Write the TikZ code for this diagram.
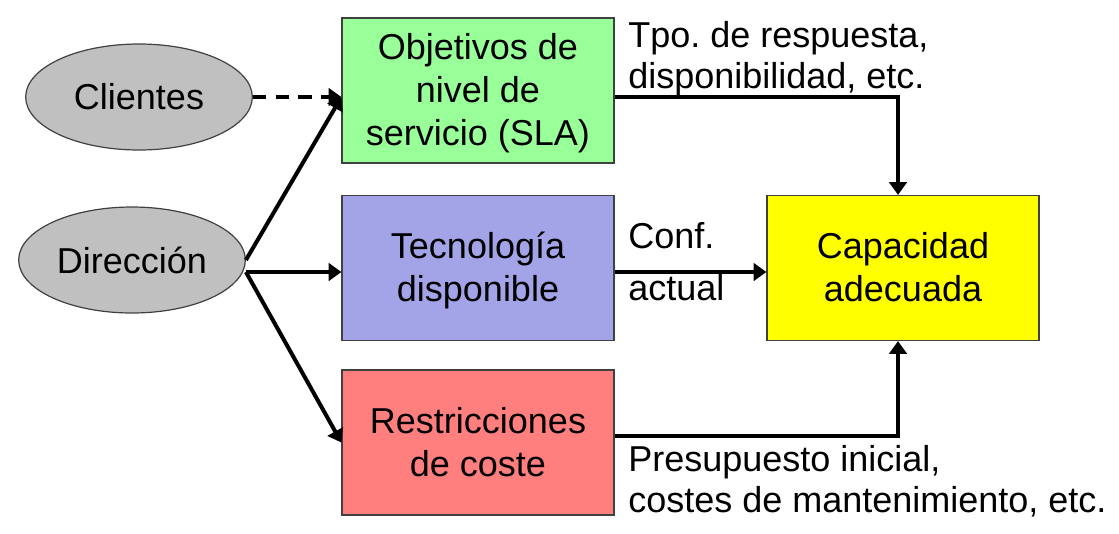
\documentclass[tikz,border=0pt]{standalone}
\usepackage{fontspec}
\setmainfont{Liberation Sans}
\usetikzlibrary{arrows.meta,shapes.geometric,calc}
\definecolor{boxgreen}{HTML}{99FF99}
\definecolor{boxblue}{HTML}{A3A3E8}
\definecolor{boxred}{HTML}{FF7F7F}
\definecolor{boxyellow}{HTML}{FFFF00}
\definecolor{ellgray}{HTML}{C0C0C0}
\definecolor{edgegray}{HTML}{404040}
\newcommand\mybxstrut{\rule[-5.7pt]{0pt}{30.1pt}}
\frenchspacing
\begin{document}
\begin{tikzpicture}[x=0.75pt,y=-0.75pt,
  every node/.style={font=\fontsize{27}{32.25}\selectfont\frenchspacing},
  box/.style={draw=edgegray, line width=0.9pt, minimum width=204pt, minimum height=108.75pt, inner sep=0pt, align=center},
  oval/.style={ellipse, draw=edgegray, line width=0.9pt, fill=ellgray, minimum width=170pt, minimum height=79.5pt, inner sep=0pt},
  arr/.style={line width=3pt, -{Triangle[length=9.5pt,width=13pt]}},
  darr/.style={arr, dash pattern=on 10pt off 7pt},
  lbl/.style={anchor=base west, align=left, inner sep=0pt, font=\fontsize{27}{30.75}\selectfont\frenchspacing}]
\useasboundingbox (0,0) rectangle (1119,533);
\node[oval] (cli) at (139,97) {Clientes};
\node[oval] (dir) at (132,260) {Dirección};
\node[box, fill=boxgreen] (sla) at (478,90.5) {\mybxstrut Objetivos de\\\mybxstrut nivel de\\\mybxstrut servicio (SLA)};
\node[box, fill=boxblue] (tec) at (478,268) {\mybxstrut Tecnología\\\mybxstrut disponible};
\node[box, fill=boxred] (res) at (478,442.5) {\mybxstrut Restricciones\\\mybxstrut de coste};
\node[box, fill=boxyellow] (cap) at (903,268) {\mybxstrut Capacidad\\\mybxstrut adecuada};
\coordinate (slain) at (sla.west |- cli.center);
\draw[darr] (cli) -- (slain);
\draw[arr] (dir.east) -- (slain);
\draw[arr] ([yshift=-9pt]dir.east) -- ([yshift=-9pt]dir.east -| tec.west);
\draw[arr] ([yshift=-9pt]dir.east) -- (res.west);
\draw[arr] (sla.east |- cli.center) -| ([xshift=-3.75pt]cap.north);
\draw[arr] ([yshift=-3pt]tec.east) -- ([yshift=-3pt]cap.west);
\draw[arr] ([yshift=4.9pt]res.east) -| ([xshift=-3.75pt]cap.south);
\node[lbl] (l1) at (628,88) {Tpo. de respuesta,\\disponibilidad, etc.};
\node[lbl] (l2) at (628,248) {Conf.};
\node[lbl] (l3) at (628,300) {actual};
\node[lbl] (l4) at (628,512) {Presupuesto inicial,\\costes de mantenimiento, etc.};
\end{tikzpicture}
\end{document}
